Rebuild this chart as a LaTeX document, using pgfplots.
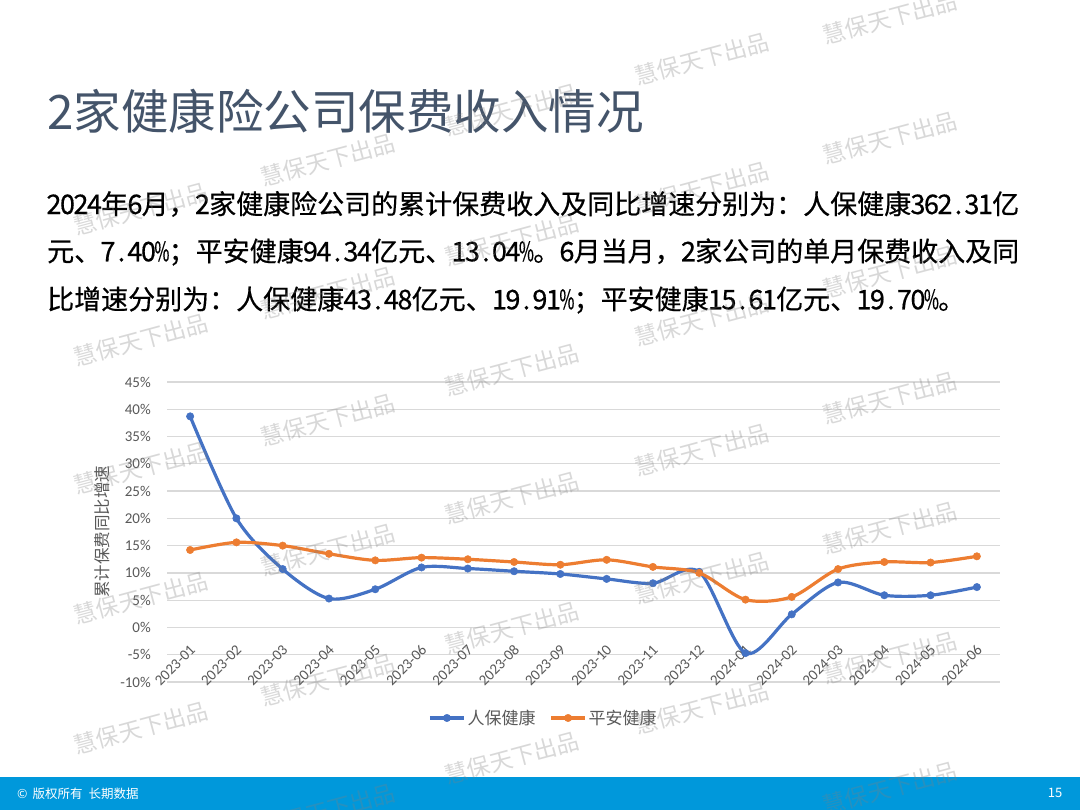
\documentclass[border=0pt]{standalone}
\usepackage{fontspec}
\usepackage{graphicx}
\setmainfont{Carlito}
\newfontfamily\cjk{Noto Sans CJK SC}
\newfontfamily\cjkbody[FakeBold=0.5]{Noto Sans CJK SC}
\usepackage{pgfplots}
\pgfplotsset{compat=1.18}

\definecolor{rbblue}{RGB}{68,114,196}
\definecolor{paorange}{RGB}{237,125,49}
\definecolor{titlegray}{RGB}{68,84,106}
\definecolor{labgray}{RGB}{89,89,89}
\definecolor{gridgray}{RGB}{217,217,217}
\definecolor{footblue}{RGB}{0,152,219}

% half-width cells for latin characters in the paragraph
\def\hw#1{\ifx\relax#1\else\makebox[0.5em]{#1}\expandafter\hw\fi}
\newcommand\pct{\makebox[0.5em]{\scalebox{0.6}[1]{\%}}}

\begin{document}
\begin{tikzpicture}[x=1pt,y=1pt]
\path[use as bounding box] (0,0) rectangle (1080,810);
\fill[white] (0,0) rectangle (1080,810);

% title and text
\node[anchor=west, inner sep=0pt, text=titlegray, font=\cjk\fontsize{47.5}{47.5}\selectfont] at (47,699) {2家健康险公司保费收入情况};
\begin{scope}[every node/.style={anchor=west, inner sep=0pt, text=black, font=\cjkbody\fontsize{27}{27}\selectfont}]
\node at (47,606) {\hw 2024\relax 年\hw 6\relax 月，\hw 2\relax 家健康险公司的累计保费收入及同比增速分别为：人保健康\hw 362.31\relax 亿};
\node at (47,558) {元、\hw 7.40\relax\pct ；平安健康\hw 94.34\relax 亿元、\hw 13.04\relax\pct 。\hw 6\relax 月当月，\hw 2\relax 家公司的单月保费收入及同};
\node at (47,510) {比增速分别为：人保健康\hw 43.48\relax 亿元、\hw 19.91\relax\pct ；平安健康\hw 15.61\relax 亿元、\hw 19.70\relax\pct 。};
\end{scope}

\begin{axis}[
  at={(167pt,128pt)}, anchor=south west,
  scale only axis, width=833pt, height=300pt,
  xmin=-0.5, xmax=17.5, ymin=-10, ymax=45,
  xtick={0,...,17},
  xticklabels={2023-01,2023-02,2023-03,2023-04,2023-05,2023-06,2023-07,2023-08,2023-09,2023-10,2023-11,2023-12,2024-01,2024-02,2024-03,2024-04,2024-05,2024-06},
  ytick={-10,-5,...,45},
  yticklabels={-10\%,-5\%,0\%,5\%,10\%,15\%,20\%,25\%,30\%,35\%,40\%,45\%},
  axis line style={draw=none},
  major tick length=0pt,
  ymajorgrids,
  major grid style={gridgray, line width=1.2pt},
  tick label style={font=\fontsize{15}{15}\selectfont, text=labgray},
  xticklabel style={yshift=37pt, xshift=5pt, rotate=45, anchor=east},
  yticklabel style={anchor=east, inner sep=0pt, xshift=-16pt},
  ylabel={累计保费同比增速},
  every axis y label/.style={at={(axis description cs:-0.078,0.5)}, rotate=90, anchor=center, font=\cjk\fontsize{16.5}{16.5}\selectfont, text=labgray},
  legend columns=2,
  legend style={at={(axis description cs:0.452,-0.12)}, anchor=center, draw=none, fill=none,
    font=\cjk\fontsize{17}{17}\selectfont, text=labgray,
    /tikz/every even column/.append style={column sep=12pt}},
  legend image code/.code={\draw[mark repeat=2, mark phase=2, #1] plot coordinates {(0pt,0pt) (17pt,0pt) (34pt,0pt)};},
  clip=false,
]
\addplot[rbblue, line width=3.2pt, smooth, mark=*, mark size=3.7pt, mark options={solid, fill=rbblue, draw=rbblue, line width=0.5pt}] coordinates {
  (0,38.7) (1,20.0) (2,10.7) (3,5.3) (4,7.0) (5,11.0) (6,10.8) (7,10.3) (8,9.8)
  (9,8.9) (10,8.1) (11,10.2) (12,-4.7) (13,2.4) (14,8.25) (15,5.9) (16,5.9) (17,7.40)
};
\addplot[paorange, line width=3.2pt, smooth, mark=*, mark size=3.7pt, mark options={solid, fill=paorange, draw=paorange, line width=0.5pt}] coordinates {
  (0,14.2) (1,15.6) (2,15.0) (3,13.5) (4,12.3) (5,12.8) (6,12.5) (7,12.0) (8,11.5)
  (9,12.4) (10,11.1) (11,10.0) (12,5.1) (13,5.6) (14,10.7) (15,12.0) (16,11.9) (17,13.04)
};
\legend{人保健康,平安健康}
\end{axis}

% footer
\fill[footblue] (0,0) rectangle (1080,33);
\node[anchor=west, inner sep=0pt, text=white, font=\cjk\fontsize{12.5}{12.5}\selectfont] at (17,16) {©\hspace{5pt}版权所有\hspace{6pt}长期数据};
\node[inner sep=0pt, text=white, font=\cjk\fontsize{13}{13}\selectfont] at (1055,17) {15};

% watermark
\foreach \wx/\wy in {141/209,141/340,141/468,141/598,141/728,
  328/160,328/293,328/420,328/550,328/680,328/810,
  512/110,512/240,512/370,512/498,512/628,512/758,
  702/59,702/188,702/320,702/450,702/578,702/708,
  890/18,890/138,890/272,890/398,890/528,890/658,890/788}
  \node[rotate=15, text=gray, opacity=0.3, font=\cjk\fontsize{23}{23}\selectfont, inner sep=0pt] at (\wx,810-\wy) {慧保天下出品};
\end{tikzpicture}
\end{document}
